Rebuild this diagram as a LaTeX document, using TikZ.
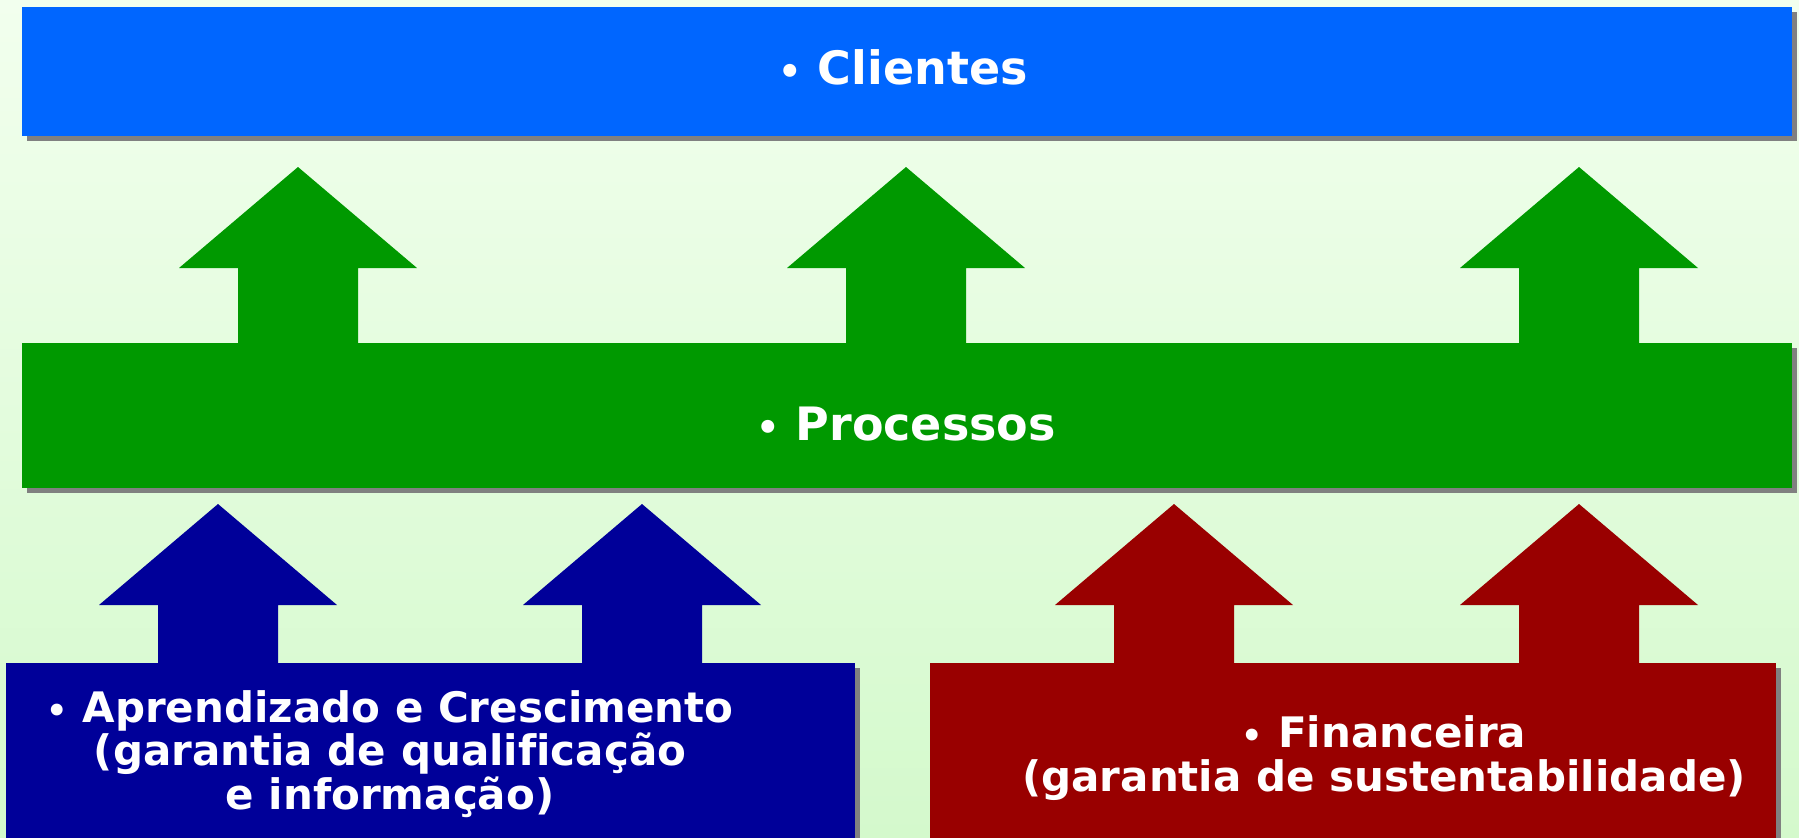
\documentclass[tikz,border=0pt]{standalone}
\usepackage{fontspec}
\setmainfont{DejaVu Sans}[Ligatures=NoCommon]
\usetikzlibrary{shadows,backgrounds}

\definecolor{clientesblue}{RGB}{0,102,255}
\definecolor{processosgreen}{RGB}{0,153,0}
\definecolor{aprendnavy}{RGB}{0,0,153}
\definecolor{financred}{RGB}{153,0,0}
\definecolor{bgtop}{RGB}{242,255,238}
\definecolor{bgbottom}{RGB}{212,249,204}

\tikzset{every picture/.style={line width=0.75pt}}
\tikzset{
  box/.style={inner sep=0pt, draw=none,
    drop shadow={shadow xshift=2.5pt, shadow yshift=-2.5pt, fill=black!50, opacity=1}},
  boxtext/.style={inner sep=0pt, text=white, font=\bfseries, align=center}
}

% block arrow: x, node it rises from, y of tip, colour
\newcommand{\blockarrow}[4]{%
  \fill[#4] (#1,#3) -- (#1+119,#3+101) -- (#1+60,#3+101) -- (#1+60,0 |- #2.center)
    -- (#1-60,0 |- #2.center) -- (#1-60,#3+101) -- (#1-119,#3+101) -- cycle;}
% bullet, a bit smaller than the bold one
\newcommand{\bul}{{\scalebox{0.8}{•}}}

\begin{document}
\begin{tikzpicture}[x=0.5pt,y=0.5pt,yscale=-1,xscale=1]
            \useasboundingbox (0,0) rectangle (1799,837);
            \clip (0,0) rectangle (1799,837);

            %Shape: Background
            \begin{pgfonlayer}{background}
            \shade [top color=bgtop, bottom color=bgbottom] (0,0) rectangle (1799,837);
            \end{pgfonlayer}

            %Shape: Rectangle [Clientes]
            \node (clientes) [box, fill=clientesblue, minimum width=885pt, minimum height=64.5pt] at (907,71.5) {};
            %Shape: Rectangle [Processos]
            \node (processos) [box, fill=processosgreen, minimum width=885pt, minimum height=72.5pt] at (907,415.5) {};
            %Shape: Rectangle [Aprendizado]
            \node (aprendizado) [box, fill=aprendnavy, minimum width=424.5pt, minimum height=98.5pt] at (430.5,761.5) {};
            %Shape: Rectangle [Financeira]
            \node (financeira) [box, fill=financred, minimum width=423pt, minimum height=98.5pt] at (1353,761.5) {};

            %Shape: Up Arrows
            \begin{pgfonlayer}{background}
            \blockarrow{298}{processos}{167}{processosgreen}
            \blockarrow{906}{processos}{167}{processosgreen}
            \blockarrow{1579}{processos}{167}{processosgreen}
            \blockarrow{218}{aprendizado}{504}{aprendnavy}
            \blockarrow{642}{aprendizado}{504}{aprendnavy}
            \blockarrow{1174}{financeira}{504}{financred}
            \blockarrow{1579}{financeira}{504}{financred}
            \end{pgfonlayer}

            % Text Node
            \node (clientestxt) [boxtext, anchor=base, font=\fontsize{23}{27}\selectfont\bfseries] at (903,84.3) {\bul{} Clientes};
            % Text Node
            \node (processostxt) [boxtext, anchor=base, font=\fontsize{23}{27}\selectfont\bfseries] at (906,440) {\bul{} Processos};
            % Text Node
            \node (aprendizadotxt) [boxtext, font=\fontsize{21}{21.8}\selectfont\bfseries] at (390,754) {\bul{} Aprendizado e Crescimento\\(garantia de qualificação\\e informação)};
            % Text Node
            \node (financeiratxt) [boxtext, font=\fontsize{21}{22}\selectfont\bfseries] at (1384,758) {\bul{} Financeira\\(garantia de sustentabilidade)};

        \end{tikzpicture}
\end{document}
